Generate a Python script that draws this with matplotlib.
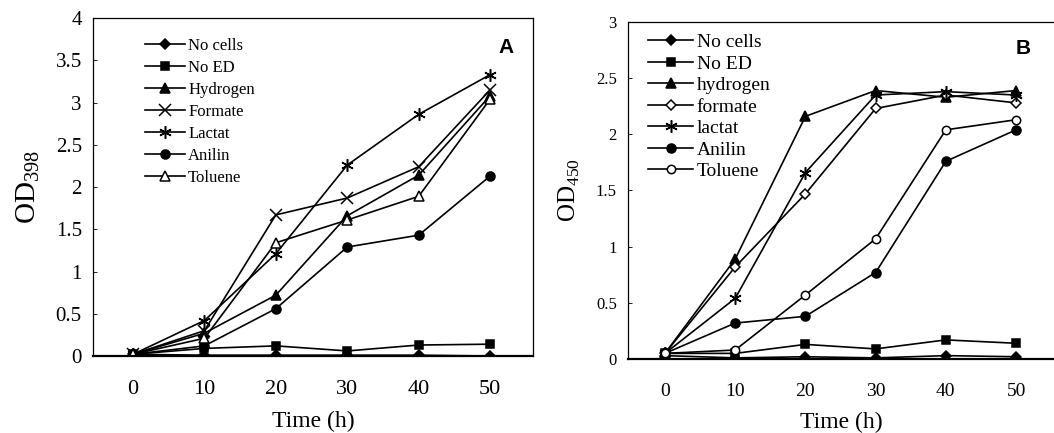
import matplotlib
matplotlib.use("Agg")
import matplotlib.pyplot as plt

plt.rcParams['font.family'] = ['Liberation Serif', 'DejaVu Serif']
plt.rcParams['mathtext.fontset'] = 'custom'
plt.rcParams['mathtext.rm'] = 'Liberation Serif'

hours = [0, 10, 20, 30, 40, 50]

# panel A: OD at 398 nm
a_labels = ['No cells', 'No ED', 'Hydrogen', 'Formate', 'Lactat', 'Anilin', 'Toluene']
a_no_cells = [0.02, 0.01, 0.01, 0.01, 0.01, 0.00]
a_no_ed = [0.02, 0.09, 0.12, 0.06, 0.13, 0.14]
a_hydrogen = [0.02, 0.27, 0.72, 1.66, 2.14, 3.08]
a_formate = [0.02, 0.30, 1.67, 1.87, 2.24, 3.15]
a_lactat = [0.02, 0.42, 1.21, 2.26, 2.86, 3.33]
a_anilin = [0.02, 0.12, 0.56, 1.29, 1.43, 2.13]
a_toluene = [0.02, 0.21, 1.34, 1.61, 1.89, 3.04]

# panel B: OD at 450 nm
b_labels = ['No cells', 'No ED', 'hydrogen', 'formate', 'lactat', 'Anilin', 'Toluene']
b_no_cells = [0.03, 0.01, 0.02, 0.01, 0.03, 0.02]
b_no_ed = [0.05, 0.05, 0.13, 0.09, 0.17, 0.14]
b_hydrogen = [0.05, 0.89, 2.16, 2.39, 2.33, 2.39]
b_formate = [0.05, 0.82, 1.47, 2.23, 2.35, 2.28]
b_lactat = [0.05, 0.54, 1.66, 2.35, 2.38, 2.35]
b_anilin = [0.05, 0.32, 0.38, 0.77, 1.76, 2.04]
b_toluene = [0.05, 0.08, 0.57, 1.07, 2.04, 2.13]

ASTERISK = (6, 2, 0)


def draw_series(ax, series, labels, styles):
    for y, lab, (mk, fill, ms) in zip(series, labels, styles):
        ax.plot(hours, y, color='black', lw=1.2, marker=mk, ms=ms,
                mfc=fill, mec='black', mew=1.1, label=lab)


def style_axes(ax, ylim, yticks, ylabel, tick_fs, xtick_fs, ylab_fs, xlab_fs):
    ax.set_ylim(*ylim)
    ax.set_yticks(yticks)
    ax.set_yticklabels(['%g' % t for t in yticks], fontsize=tick_fs)
    ax.set_xticks(hours)
    ax.set_xticklabels([str(h) for h in hours], fontsize=xtick_fs)
    ax.tick_params(axis='x', length=0, pad=17)
    ax.tick_params(axis='y', direction='in', length=3, width=0.6, pad=8)
    ax.set_xlabel('Time (h)', fontsize=xlab_fs, labelpad=9)
    ax.set_ylabel(ylabel, fontsize=ylab_fs, labelpad=10)
    ax.spines['bottom'].set_linewidth(1.6)
    for s in ['left', 'top', 'right']:
        ax.spines[s].set_linewidth(0.9)


fig = plt.figure(figsize=(10.54, 4.33), dpi=100)

ax1 = fig.add_axes([0.0882, 0.1778, 0.4175, 0.7806])
series_a = [a_no_cells, a_no_ed, a_hydrogen, a_formate, a_lactat, a_anilin, a_toluene]
styles_a = [('D', 'black', 5), ('s', 'black', 6), ('^', 'black', 7), ('x', 'none', 8),
            (ASTERISK, 'none', 9), ('o', 'black', 6.5), ('^', 'white', 7)]
draw_series(ax1, series_a, a_labels, styles_a)
ax1.set_xlim(-5.6, 56.0)
style_axes(ax1, (0, 4), [0, 0.5, 1, 1.5, 2, 2.5, 3, 3.5, 4], r'$\mathrm{OD}_{398}$', 15, 16, 21, 17)
ax1.legend(loc='upper left', bbox_to_anchor=(0.095, 0.97), frameon=False, fontsize=12,
           handlelength=2.4, handletextpad=0.2, labelspacing=0.36, borderaxespad=0.2)
ax1.text(0.955, 0.94, 'A', transform=ax1.transAxes, ha='right', va='top',
         fontsize=15, fontweight='bold', family='Liberation Sans')

ax2 = fig.add_axes([0.5958, 0.1709, 0.4042, 0.7783])
series_b = [b_no_cells, b_no_ed, b_hydrogen, b_formate, b_lactat, b_anilin, b_toluene]
styles_b = [('D', 'black', 5), ('s', 'black', 6), ('^', 'black', 7), ('D', 'white', 5),
            (ASTERISK, 'none', 9), ('o', 'black', 6.5), ('o', 'white', 6)]
draw_series(ax2, series_b, b_labels, styles_b)
ax2.set_xlim(-5.27, 55.4)
style_axes(ax2, (0, 3), [0, 0.5, 1, 1.5, 2, 2.5, 3], r'$\mathrm{OD}_{450}$', 12, 14, 18, 17)
ax2.spines['right'].set_visible(False)
ax2.legend(loc='upper left', bbox_to_anchor=(0.02, 1.0), frameon=False, fontsize=14,
           handlelength=2.3, handletextpad=0.2, labelspacing=0.2, borderaxespad=0.2)
ax2.text(0.945, 0.95, 'B', transform=ax2.transAxes, ha='right', va='top',
         fontsize=15, fontweight='bold', family='Liberation Sans')

fig.savefig('out.png', dpi=100)
